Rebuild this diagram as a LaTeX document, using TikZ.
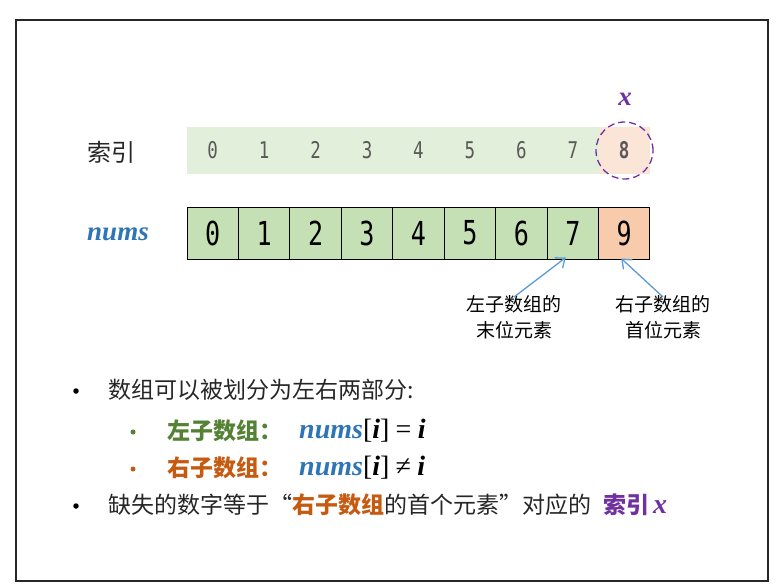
\documentclass[tikz,border=0pt]{standalone}
\usepackage{fontspec}
\setmainfont{Noto Sans CJK SC}
\newfontfamily\monof[FakeStretch=0.76]{DejaVu Sans Mono}
\newfontfamily\mathf{Liberation Serif}
\usetikzlibrary{arrows.meta}
\definecolor{idxgreen}{HTML}{E2EFDA}
\definecolor{idxorange}{HTML}{FBE5D6}
\definecolor{cellgreen}{HTML}{C5E0B4}
\definecolor{cellorange}{HTML}{F8CBAD}
\definecolor{mypurple}{HTML}{7030A0}
\definecolor{myblue}{HTML}{2E75B6}
\definecolor{arrowblue}{HTML}{5B9BD5}
\definecolor{mygreen}{HTML}{548235}
\definecolor{myorange}{HTML}{C55A11}
\definecolor{idxgray}{HTML}{595959}
\definecolor{textgray}{HTML}{262626}
\tikzset{
  cell/.style={draw=black, line width=1pt, minimum width=51.44pt, minimum height=52pt, inner sep=0pt, font=\monof\fontsize{33}{33}\selectfont},
  idx/.style={inner sep=0pt, text=idxgray, font=\monof\fontsize{23}{23}\selectfont},
  lbl/.style={inner sep=0pt, align=center, text=black, font=\fontsize{19}{26}\selectfont},
  txt/.style={inner sep=0pt, anchor=west, text=textgray, font=\fontsize{23}{23}\selectfont},
  dot/.style={circle, fill=#1, inner sep=0pt, minimum size=5.5pt},
  smalldot/.style={circle, fill=#1, inner sep=0pt, minimum size=5pt},
  ptr/.style={draw=arrowblue, line width=1.3pt, -{Straight Barb[length=8pt, width=13pt]}},
}
\newcommand{\mi}[1]{{\mathf\bfseries\itshape #1}}
\begin{document}
\begin{tikzpicture}[x=1pt,y=-1pt]
\useasboundingbox (0,0) rectangle (781,588);
\draw[line width=2pt, draw=black!85] (16,20) rectangle (768,581);
% index band
\fill[idxgreen] (187,127) rectangle (599,174);
\fill[idxorange] (599,127) rectangle (650,174);
\foreach \i in {0,...,7} {
  \node[idx] (i\i) at ({212.72+51.44*\i},150) {\i};
}
\node[idx, font=\monof\bfseries\fontsize{23}{23}\selectfont] (i8) at (624.24,150) {8};
\node[draw=mypurple, dashed, dash pattern=on 7pt off 4pt, line width=1.3pt, circle, minimum size=57pt] (circ) at (624.5,150.5) {};
\node[text=mypurple, inner sep=0pt, font=\fontsize{27}{27}\selectfont] (xl) at (625,99) {\mi{x}};
% row labels
\node[inner sep=0pt, text=textgray, font=\fontsize{24}{24}\selectfont] (lidx) at (111,152) {索引};
\node[inner sep=0pt, text=myblue, font=\fontsize{27}{27}\selectfont] (lnums) at (118,234) {\mi{nums}};
% cells
\foreach \i in {0,...,7} {
  \node[cell, fill=cellgreen] (c\i) at ({212.72+51.44*\i},233) {\i};
}
\node[cell, fill=cellorange] (c8) at (624.24,233) {9};
% pointer labels
\node[lbl] (ll) at (514,317) {左子数组的\\末位元素};
\node[lbl] (rl) at (663,317) {右子数组的\\首位元素};
\draw[ptr] ([yshift=-2pt]ll.north) -- ([xshift=-7pt,yshift=2pt]c7.south);
\draw[ptr] ([yshift=-2pt]rl.north) -- ([yshift=1pt,xshift=-3pt]c8.south);
% bullets
\node[dot=black] (b1) at (76,391) {};
\node[txt] (t1) at (108,390) {数组可以被划分为左右两部分:};
\node[smalldot=mygreen] (b2) at (133,432) {};
\node[txt, text=mygreen, font=\bfseries\fontsize{23}{23}\selectfont] (t2) at (167,431) {左子数组：};
\node[txt, text=black, font=\fontsize{28}{28}\selectfont] (m2) at (299,431) {\textcolor{myblue}{\mi{nums}}{\mathf[}\mi{i}{\mathf]} {\mathf=} \mi{i}};
\node[smalldot=myorange] (b3) at (133,469) {};
\node[txt, text=myorange, font=\bfseries\fontsize{23}{23}\selectfont] (t3) at (167,468) {右子数组：};
\node[txt, text=black, font=\fontsize{28}{28}\selectfont] (m3) at (299,468) {\textcolor{myblue}{\mi{nums}}{\mathf[}\mi{i}{\mathf]} {\mathf≠} \mi{i}};
\node[dot=black] (b4) at (76,506) {};
\node[txt] (t4) at (108,505) {缺失的数字等于“\textcolor{myorange}{\bfseries 右子数组}的首个元素”对应的\hspace{12pt}\textcolor{mypurple}{\bfseries 索引\hspace{4pt}{\fontsize{28}{28}\selectfont\mi{x}}}};
\end{tikzpicture}
\end{document}
